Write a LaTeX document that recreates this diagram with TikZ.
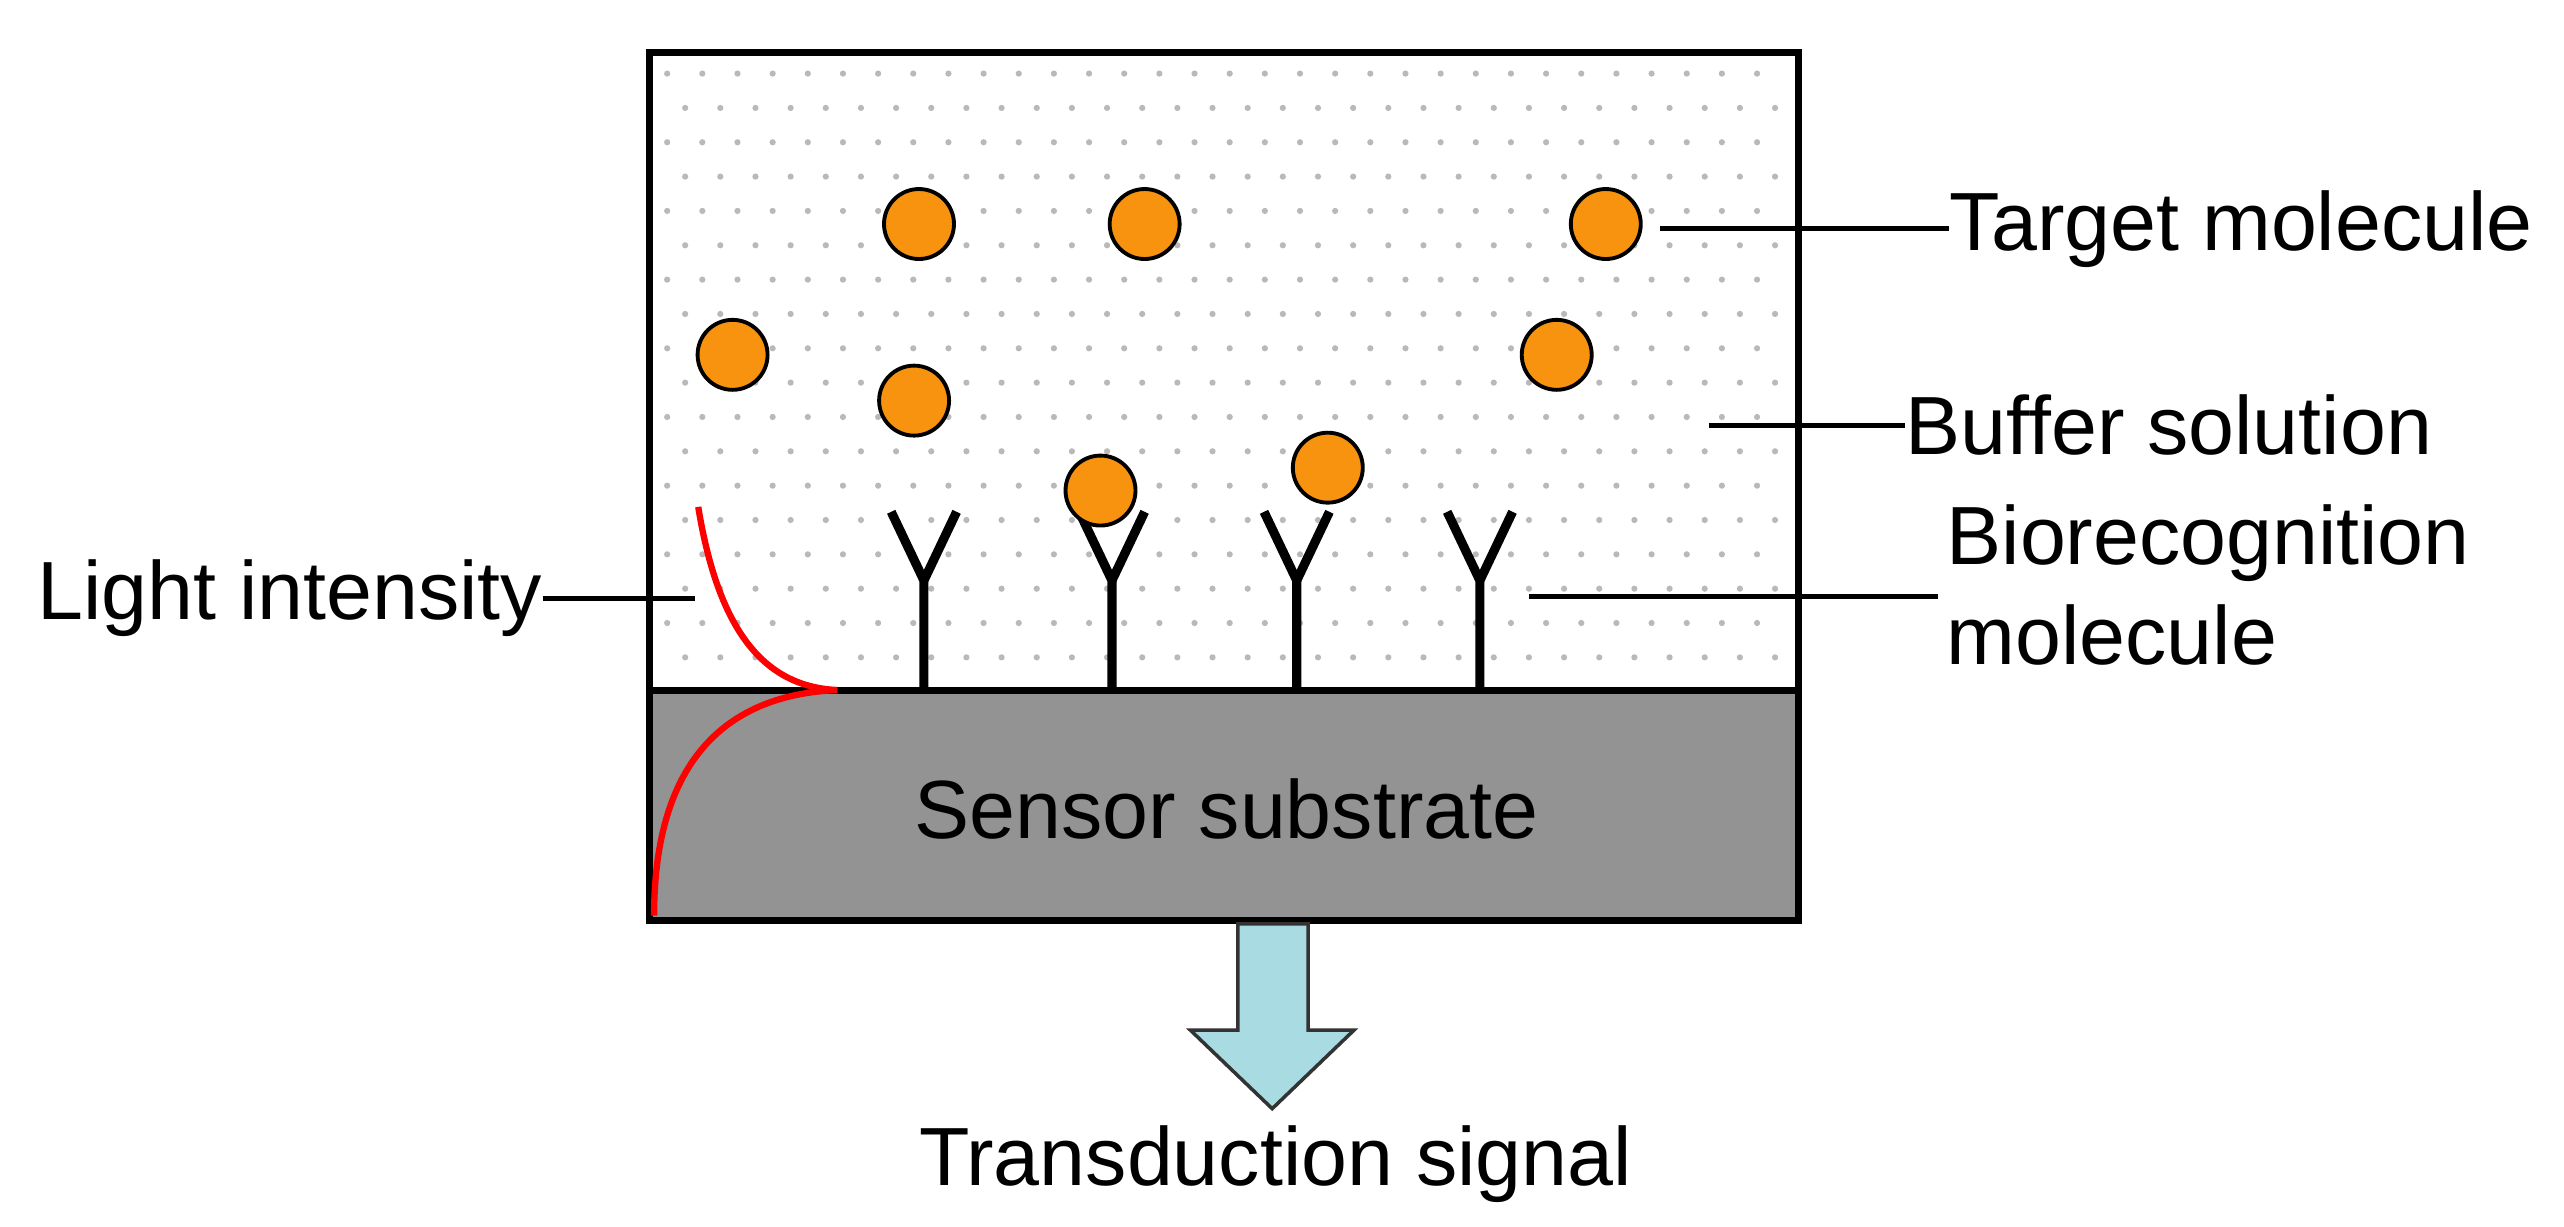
\documentclass[tikz,border=0pt]{standalone}
\usepackage{fontspec}
\setmainfont{Liberation Sans}
\definecolor{arrowcol}{HTML}{A8DCE2}
\definecolor{molcol}{HTML}{F7930F}
\begin{document}
\begin{tikzpicture}[x=0.01635cm,y=-0.01635cm,
  mol/.style={circle,draw=black,line width=1.1pt,fill=molcol,minimum size=0.70cm,inner sep=0pt},
  lab/.style={font=\fontsize{23.5}{28.5}\selectfont,inner sep=0pt},
  ln/.style={line width=1.4pt},
  ab/.style={line width=2.6pt}]
\useasboundingbox (0,0) rectangle (1568,750);
\fill[white] (0,0) rectangle (1568,750);
% dots
\foreach \j in {0,...,17}{
  \pgfmathsetmacro\yy{45+\j*21}
  \pgfmathsetmacro\off{mod(\j,2)*11}
  \foreach \i in {0,...,31}{
    \fill[gray!55] ({408+\off+\i*21.5},\yy) circle (1.9);
  }
}
\fill[gray!85] (397,422) rectangle (1100,563);
\coordinate (sa) at (397,422);
\coordinate (sb) at (1100,422);
\draw[line width=2pt] (sa) -- (sb);
\node[lab] (subl) at (750,495) {Sensor substrate};
\draw[line width=2pt] (397,32) rectangle (1100,563);
% antibodies
\foreach \x/\n in {565/y1,680/y2,793/y3,905/y4}{
  \coordinate (\n b) at (\x,422);
  \coordinate (\n m) at (\x,355);
  \coordinate (\n l) at (\x-20,313);
  \coordinate (\n r) at (\x+20,313);
  \draw[ab,line join=round] (\n b) -- (\n m) -- (\n l);
  \draw[ab] (\n m) -- (\n r);
}
% molecules
\node[mol] (m1) at (562,137) {};
\node[mol] (m2) at (700,137) {};
\node[mol] (m3) at (982,137) {};
\node[mol] (m4) at (448,217) {};
\node[mol] (m5) at (559,245) {};
\node[mol] (m6) at (952,217) {};
\node[mol] (m7) at (673,300) {};
\node[mol] (m8) at (812,286) {};
% light intensity curves
\coordinate (c1) at (427,310);
\coordinate (c2) at (512,422);
\coordinate (c3) at (400,560);
\draw[red,line width=1.8pt] (c1) .. controls (440,390) and (470,420) .. (c2);
\draw[red,line width=1.8pt] (c2) .. controls (440,425) and (400,470) .. (c3);
% arrow
\coordinate (a1) at (778,678);
\fill[arrowcol,draw=black!80,line width=1pt] (757,565) -- (800,565) -- (800,630) -- (828,630) -- (a1) -- (728,630) -- (757,630) -- cycle;
\node[lab] (tr) at (780,712) {Transduction signal};
% labels
\node[lab,anchor=west] (tm) at (1192,140) {Target molecule};
\draw[ln] (1015,140) -- (tm.west);
\node[lab,anchor=west] (bs) at (1165,260) {Buffer solution};
\draw[ln] (1045,260) -- (bs.west);
\node[lab,anchor=west,align=left] (bm) at (1190,358) {Biorecognition\\molecule};
\draw[ln] (935,365) -- (1185,365);
\node[lab,anchor=east] (li) at (332,366) {Light intensity};
\draw[ln] (li.east) -- (425,366);
\end{tikzpicture}
\end{document}
